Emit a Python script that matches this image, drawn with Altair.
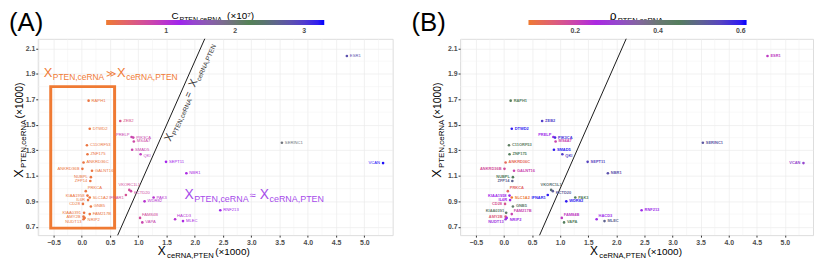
import altair as alt
import pandas as pd

FONT = "Liberation Sans, Arial, sans-serif"

# ---------------- data ----------------
genes = ["RAPH1", "DTWD2", "ZEB2", "C11ORF53", "PRELP", "PIK3CA", "MS4A7", "ZNF175", "SMAD5", "QKI",
         "ANKRD36C", "SEPT11", "ANKRD36B", "GALNT16", "NUBPL", "ZFP14", "NBR1", "VKORC1L1", "KCTD20", "IFNAR1",
         "PAK3", "WDR82", "PRKCA", "KIAA1958", "SLC1A2", "IL6R", "CD28", "GNB5", "KIAA0391", "FAM217B",
         "AMY2B", "NRIP2", "NUDT13", "FAM84B", "VAPA", "HACD3", "MLEC", "RNF213", "SERINC1", "ESR1", "VCAN"]
x_cerna_pten = [0.12, 0.14, 0.68, 0.09, 0.88, 0.91, 0.92, 0.10, 0.89, 1.04,
                0.03, 1.49, 0.01, 0.18, 0.16, 0.15, 1.85, 0.84, 0.87, 0.78,
                1.27, 1.11, 0.07, 0.10, 0.14, 0.11, 0.02, 0.16, 0.04, 0.14,
                0.03, 0.05, 0.03, 1.03, 1.07, 1.65, 1.79, 2.45, 3.54, 4.69, 5.33]
x_pten_cerna = [1.69, 1.47, 1.53, 1.34, 1.405, 1.40, 1.37, 1.27, 1.305, 1.27,
                1.205, 1.21, 1.155, 1.14, 1.09, 1.06, 1.12, 0.99, 0.98, 0.95,
                0.93, 0.90, 0.98, 0.945, 0.93, 0.91, 0.88, 0.86, 0.81, 0.80,
                0.78, 0.77, 0.76, 0.77, 0.735, 0.76, 0.745, 0.83, 1.36, 2.04, 1.20]
c_pten_cerna = [0.20, 0.20, 0.60, 0.20, 0.80, 0.80, 0.75, 0.20, 0.80, 0.90,
                0.20, 1.15, 0.20, 0.20, 0.20, 0.20, 1.10, 0.70, 0.75, 0.65,
                1.00, 1.00, 0.20, 0.20, 0.20, 0.20, 0.20, 0.20, 0.20, 0.20,
                0.20, 0.20, 0.20, 0.70, 0.80, 1.00, 1.10, 1.20, 1.95, 2.80, 3.25]
rho_pten_cerna = [0.45, 0.60, 0.56, 0.42, 0.27, 0.58, 0.20, 0.45, 0.60, 0.56,
                  0.12, 0.55, 0.18, 0.20, 0.45, 0.50, 0.53, 0.47, 0.51, 0.60,
                  0.45, 0.60, 0.13, 0.27, 0.09, 0.26, 0.17, 0.41, 0.41, 0.20,
                  0.15, 0.27, 0.28, 0.22, 0.45, 0.27, 0.50, 0.27, 0.52, 0.22, 0.30]

x_ticks = [-0.5, 0.0, 0.5, 1.0, 1.5, 2.0, 2.5, 3.0, 3.5, 4.0, 4.5, 5.0]
y_ticks = [0.7, 0.9, 1.1, 1.3, 1.5, 1.7, 1.9, 2.1]
x_minor = [-0.75, -0.25, 0.25, 0.75, 1.25, 1.75, 2.25, 2.75, 3.25, 3.75, 4.25, 4.75, 5.25]
y_minor = [0.8, 1.0, 1.2, 1.4, 1.6, 1.8, 2.0]
c_legend_ticks = [1, 2, 3]
rho_legend_ticks = [0.2, 0.4, 0.6]
diag = [0.6, 2.2]
box_x = [-0.55, 0.58]
box_y = [0.69, 1.80]

X_DOMAIN = [-0.78, 5.5]
Y_DOMAIN = [0.635, 2.175]
PALETTE = ["#EE7A30", "#A020F0", "#4E8450", "#0000FF"]
C_STOPS = [0.13, 1.18, 2.24, 3.29]
RHO_STOPS = [0.087, 0.263, 0.438, 0.614]

ORANGE = "#F07B36"
PURPLE = "#A64BEA"
GREY = "#4D4D4D"

# label placement (styling)
side_a = {g: "r" for g in genes}
side_a.update({"PRELP": "lu", "ANKRD36B": "l", "NUBPL": "l", "ZFP14": "l", "VCAN": "l",
               "VKORC1L1": "u", "KCTD20": "rd", "IFNAR1": "ld", "PRKCA": "ru", "KIAA1958": "l",
               "IL6R": "l", "CD28": "l", "KIAA0391": "l", "AMY2B": "l", "NRIP2": "rd",
               "NUDT13": "ld", "FAM84B": "ru", "HACD3": "ru", "QKI": "rd"})
side_b = dict(side_a)
side_b.update({"KIAA0391": "lu", "FAM217B": "ru"})
SIDE_STYLE = {"r": ("left", 3, 0), "l": ("right", -3, 0), "ru": ("left", 2, -3),
              "rd": ("left", 3, 2), "ld": ("right", -2, 3), "lu": ("right", -2, -2),
              "u": ("center", 0, -5)}

ONE = pd.DataFrame({"k": [0]})


def txt(s, x, y, size, color="black", angle=0, dx=0, dy=0, weight="normal", align="left"):
    kw = dict(text=s, fontSize=size, color=color, align=align, baseline="alphabetic",
              font=FONT, fontWeight=weight)
    if angle:
        kw["angle"] = angle
    if dx:
        kw["dx"] = dx
    if dy:
        kw["dy"] = dy
    return alt.Chart(ONE).mark_text(**kw).encode(x=alt.value(x), y=alt.value(y))


def subscripted(x, y, parts, color, angle=0, gap=1.0):
    """parts: list of (text, size, dy, em_width)"""
    layers = []
    off = 0.0
    for s, size, dy, em in parts:
        layers.append(txt(s, x, y, size, color, angle=angle, dx=off, dy=dy))
        off += em * size + gap
    return layers


def panel(field, stops, legend_vals, sides, label_weight, label_size, letter, letter_x,
          ytitle_x, xtitle_x, width):
    df = pd.DataFrame({"gene": genes, "xc": x_cerna_pten, "xp": x_pten_cerna,
                       "C": c_pten_cerna, "rho": rho_pten_cerna,
                       "side": [sides[g] for g in genes]})
    xs = alt.Scale(domain=X_DOMAIN, nice=False, zero=False)
    ys = alt.Scale(domain=Y_DOMAIN, nice=False, zero=False)
    axis_common = dict(title=None, format=".1f", grid=True, gridColor="#EBEBEB", gridWidth=0.7,
                       domain=False, tickSize=2, tickColor="#333333", labelFontSize=7,
                       labelColor=GREY, labelFontWeight="bold", labelPadding=1, labelFont=FONT)
    ax = alt.Axis(values=x_ticks, **axis_common)
    ay = alt.Axis(values=y_ticks, **axis_common)
    cs = alt.Scale(domain=stops, range=PALETTE, interpolate="lab")
    leg = alt.Legend(orient="none", legendX=69, legendY=-19, direction="horizontal",
                     gradientLength=220, gradientThickness=5, title=None, values=legend_vals,
                     labelFontSize=7, labelColor=GREY, labelFont=FONT, labelFontWeight="bold",
                     padding=0, labelOffset=2, gradientStrokeWidth=0)
    col = alt.Color(f"{field}:Q", scale=cs, legend=leg)

    minor_x = alt.Chart(pd.DataFrame({"v": x_minor})).mark_rule(
        color="#F0F0F0", strokeWidth=0.5).encode(x=alt.X("v:Q", scale=xs, axis=ax))
    minor_y = alt.Chart(pd.DataFrame({"v": y_minor})).mark_rule(
        color="#F0F0F0", strokeWidth=0.5).encode(y=alt.Y("v:Q", scale=ys, axis=ay))
    line = alt.Chart(pd.DataFrame({"a": diag, "b": diag})).mark_line(
        color="black", strokeWidth=0.9, clip=True).encode(
        x=alt.X("a:Q", scale=xs, axis=ax), y=alt.Y("b:Q", scale=ys, axis=ay))
    pts = alt.Chart(df).mark_circle(size=7, opacity=1).encode(
        x=alt.X("xc:Q", scale=xs, axis=ax), y=alt.Y("xp:Q", scale=ys, axis=ay), color=col)

    layers = [minor_x, minor_y, line]
    extra = []
    if letter == "(A)":
        box = alt.Chart(pd.DataFrame({"x1": [box_x[0]], "x2": [box_x[1]],
                                      "y1": [box_y[0]], "y2": [box_y[1]]})).mark_rect(
            fillOpacity=0, stroke="#EF7A33", strokeWidth=3).encode(
            x=alt.X("x1:Q", scale=xs, axis=ax), x2="x2:Q",
            y=alt.Y("y1:Q", scale=ys, axis=ay), y2="y2:Q")
        layers.append(box)
        # orange annotation
        extra += [txt("X", 6, 39, 13, ORANGE), txt("PTEN,ceRNA", 15.2, 42, 8.5, ORANGE),
                  txt("\u226b", 69, 39, 10, ORANGE), txt("X", 80, 39, 13, ORANGE),
                  txt("ceRNA,PTEN", 89.2, 42, 8.5, ORANGE)]
        # purple annotation
        extra += [txt("X", 148, 162, 14, PURPLE), txt("PTEN,ceRNA", 157.8, 165, 9, PURPLE),
                  txt("\u2248", 214, 162, 11, PURPLE), txt("X", 224, 162, 14, PURPLE),
                  txt("ceRNA,PTEN", 233.8, 165, 9, PURPLE)]
        # diagonal label
        extra += subscripted(134, 104, [("X", 11, 0, 0.667), ("PTEN,ceRNA", 6.5, 2.5, 6.112),
                                        (" = ", 10, 0, 1.14), ("X", 11, 0, 0.667),
                                        ("ceRNA,PTEN", 6.5, 2.5, 6.112)], "#333333",
                             angle=294, gap=0.5)
        # legend title
        extra += [txt("C", 135, -20, 10, "black"), txt("PTEN,ceRNA", 143, -17, 7, "black"),
                  txt("(\u00d710\u2077)", 191, -20, 10, "black")]
    else:
        extra += [txt("\u03c1", 151, -19, 12, "black"), txt("PTEN,ceRNA", 159, -16, 7.5, "black")]

    layers.append(pts)
    for code, (al, dx, dy) in SIDE_STYLE.items():
        kw = dict(align=al, baseline="middle", fontSize=label_size, font=FONT,
                  fontWeight=label_weight)
        if al != "center" and dx:
            kw["dx"] = dx
        if dy:
            kw["dy"] = dy
        layers.append(alt.Chart(df).transform_filter(alt.datum.side == code).mark_text(**kw).encode(
            x=alt.X("xc:Q", scale=xs, axis=ax), y=alt.Y("xp:Q", scale=ys, axis=ay),
            text="gene:N", color=col))

    # axis titles
    extra += subscripted(ytitle_x, 140, [("X", 13, 0, 0.667), ("PTEN,ceRNA", 8, 3, 6.112),
                                         (" (\u00d71000)", 10.5, 0, 3.75)], "black", angle=270)
    extra += subscripted(xtitle_x, 218, [("X", 12, 0, 0.667), ("ceRNA,PTEN", 7.7, 3, 6.112),
                                         (" (\u00d71000)", 10, 0, 3.75)], "black", gap=1.5)
    extra.append(txt(letter, letter_x, -8, 26, "black"))

    return alt.layer(*(layers + extra)).properties(width=width, height=198)


pa = panel("C", C_STOPS, c_legend_ticks, side_a, "normal", 4.2, "(A)", -29, -15, 121, 358)
pb = panel("rho", RHO_STOPS, rho_legend_ticks, side_b, "bold", 4.0, "(B)", -49, -19, 131, 356)

chart = alt.hconcat(pa, pb, spacing=17).resolve_scale(
    color="independent", x="independent", y="independent").resolve_legend(
    color="independent").properties(padding=0).configure_view(
    stroke="black", strokeWidth=1.5).configure(font=FONT)

chart.save("out.html", embed_options={"renderer": "svg", "actions": False})
